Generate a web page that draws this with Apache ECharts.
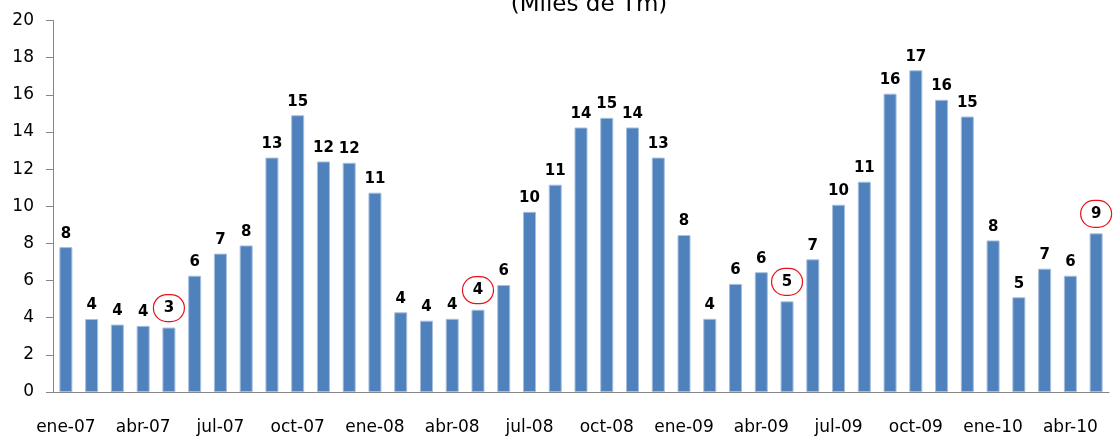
<!DOCTYPE html>
<html>
<head>
<meta charset="utf-8">
<script src="https://cdn.jsdelivr.net/npm/echarts@6/dist/echarts.min.js"></script>
<style>html,body{margin:0;padding:0;background:#fff}#c{width:1113px;height:436px}</style>
</head>
<body>
<div id="c"></div>
<script>
const titleText = '(Miles de Tm)';
const categories = [
  'ene-07','feb-07','mar-07','abr-07','may-07','jun-07','jul-07','ago-07','sep-07','oct-07','nov-07','dic-07',
  'ene-08','feb-08','mar-08','abr-08','may-08','jun-08','jul-08','ago-08','sep-08','oct-08','nov-08','dic-08',
  'ene-09','feb-09','mar-09','abr-09','may-09','jun-09','jul-09','ago-09','sep-09','oct-09','nov-09','dic-09',
  'ene-10','feb-10','mar-10','abr-10','may-10'
];
const values = [
  7.8, 3.93, 3.63, 3.56, 3.47, 6.26, 7.45, 7.89, 12.62, 14.9, 12.41, 12.34,
  10.73, 4.29, 3.84, 3.94, 4.43, 5.76, 9.7, 11.16, 14.24, 14.76, 14.24, 12.62,
  8.45, 3.94, 5.82, 6.45, 4.88, 7.14, 10.08, 11.32, 16.06, 17.32, 15.73, 14.83,
  8.16, 5.1, 6.64, 6.26, 8.54
];
const labels = [
  8, 4, 4, 4, 3, 6, 7, 8, 13, 15, 12, 12,
  11, 4, 4, 4, 4, 6, 10, 11, 14, 15, 14, 13,
  8, 4, 6, 6, 5, 7, 10, 11, 16, 17, 16, 15,
  8, 5, 7, 6, 9
];
const circled = [4, 16, 28, 40];
const yTicks = [0, 20, 2];

const FONT = 'DejaVu Sans';
const chart = echarts.init(document.getElementById('c'), null, {renderer: 'canvas'});
chart.setOption({
  animation: false,
  backgroundColor: '#fff',
  textStyle: {fontFamily: FONT},
  graphic: [{
    type: 'text', x: 589, y: 17,
    style: {text: titleText, font: '23px "DejaVu Sans"', fill: '#000', textAlign: 'center', textVerticalAlign: 'bottom'}
  }],
  grid: {left: 53, right: 4, top: 20.5, bottom: 43.5, containLabel: false},
  xAxis: {
    type: 'category',
    data: categories,
    boundaryGap: true,
    axisLine: {lineStyle: {color: '#868686', width: 1}},
    axisTick: {interval: 2, length: 7, lineStyle: {color: '#868686'}},
    axisLabel: {interval: 2, margin: 27, fontSize: 17, color: '#000', fontFamily: FONT}
  },
  yAxis: {
    type: 'value',
    min: yTicks[0], max: yTicks[1], interval: yTicks[2],
    splitLine: {show: false},
    axisLine: {show: true, lineStyle: {color: '#868686', width: 1}},
    axisTick: {show: true, length: 7, lineStyle: {color: '#868686'}},
    axisLabel: {margin: 19, fontSize: 17, color: '#000', fontFamily: FONT}
  },
  series: [{
    type: 'bar',
    barWidth: 13,
    itemStyle: {color: '#4f81bd', borderColor: '#a7bfde', borderWidth: 1},
    label: {
      show: true, position: 'top', distance: 6,
      fontSize: 15, fontWeight: 'bold', color: '#000', fontFamily: FONT,
      formatter: p => circled.includes(p.dataIndex) ? '{c|' + labels[p.dataIndex] + '}' : String(labels[p.dataIndex]),
      rich: {
        c: {
          fontSize: 15, fontWeight: 'bold', color: '#000', fontFamily: FONT,
          width: 31, height: 27, lineHeight: 27, align: 'center',
          borderColor: '#e3141b', borderWidth: 1.2, borderRadius: 15
        }
      }
    },
    data: values.map((v, i) => ({value: v}))
  }]
});
</script>
</body>
</html>
